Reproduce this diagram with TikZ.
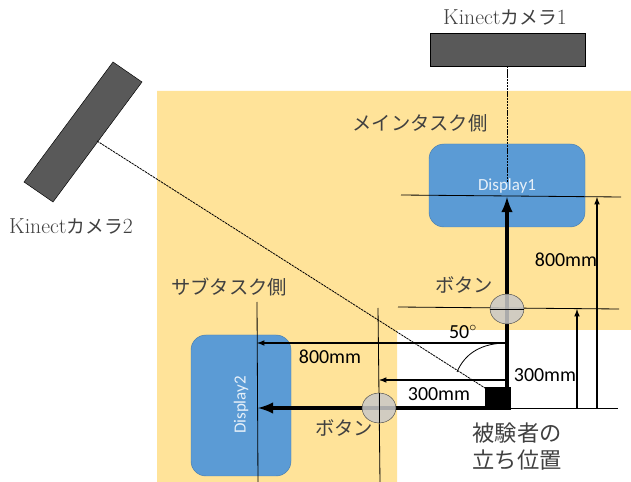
\documentclass[tikz,border=0pt]{standalone}
\usepackage{xcolor}
\usepackage{fontspec}
\usepackage{tikz}
\usetikzlibrary{shapes.geometric}
\setsansfont{Carlito}
\newfontfamily\jpfont{Noto Sans CJK JP}
\definecolor{areayellow}{HTML}{FFE399}
\definecolor{dispblue}{HTML}{5B9BD5}
\definecolor{dispedge}{HTML}{4A7FAF}
\definecolor{camgray}{HTML}{595959}
\definecolor{btngray}{HTML}{C9C9C9}
\definecolor{jptext}{HTML}{404040}
\newcommand{\camtext}[1]{{\fontsize{18.5}{20}\selectfont Kinect}{\jpfont\fontsize{16}{20}\selectfont カメラ}{\fontsize{18.5}{20}\selectfont #1}}
\tikzset{
    display/.style={draw=dispedge, fill=dispblue, rounded corners=15*0.85pt},
    camera/.style={draw=black, fill=camgray},
    button/.style={draw=black!70, fill=btngray, fill opacity=0.85, ellipse, minimum width=34*0.85pt, minimum height=30*0.85pt, inner sep=0pt},
    guide/.style={draw=black, line width=0.7pt},
    dim/.style={-latex, line width=1.2pt},
    walk/.style={-latex, line width=3.4pt},
    sight/.style={dash pattern=on 2pt off 0.7pt, line width=0.7pt},
    jp/.style={text=jptext, font=\jpfont\fontsize{16.5}{20}\selectfont, inner sep=0pt},
    mm/.style={font=\sffamily\fontsize{17}{20}\selectfont, text=black, inner sep=0pt},
    disptext/.style={font=\sffamily\fontsize{14.5}{17}\selectfont, text=white!85!dispblue, inner sep=0pt},
}
\begin{document}
\begin{tikzpicture}[x=0.03cm, y=-0.03cm]
    \useasboundingbox (0, 0) rectangle (631, 482);

    % areas
    \fill[areayellow] (157, 91) -- (631, 91) -- (631, 330) -- (397, 330) -- (397, 482) -- (157, 482) -- cycle;
    \draw[display] (429, 144) rectangle (585, 227);
    \draw[display] (191, 335) rectangle (291, 476);

    % cameras
    \draw[camera] (430, 33) rectangle (585, 66);
    \draw[camera] (113, 62) -- (142, 82) -- (53, 202) -- (24, 182) -- cycle;

    \coordinate (cam1) at (507, 66);
    \coordinate (cam2) at (97, 141);
    \coordinate (front1) at (507, 182);
    \coordinate (L1a) at (401, 195);
    \coordinate (L1b) at (621, 197);
    \coordinate (L2a) at (398, 307);
    \coordinate (L2b) at (619, 309);
    \coordinate (L3a) at (257, 302);
    \coordinate (L3b) at (258, 482);
    \coordinate (L4a) at (378, 308);
    \coordinate (L4b) at (380, 482);
    \coordinate (base) at (618, 408);
    \coordinate (origin) at (507, 408);
    \coordinate (up1) at (507, 197);
    \coordinate (up2) at (597, 197);
    \coordinate (up2s) at (597, 408);
    \coordinate (up3) at (577, 309);
    \coordinate (up3s) at (577, 408);
    \coordinate (left1s) at (507, 343);
    \coordinate (left1) at (257, 343);
    \coordinate (left2s) at (507, 380);
    \coordinate (left2) at (379, 380);
    \coordinate (left3) at (258, 408);
    \coordinate (arcend) at (457, 372);

    % subject
    \node[draw, fill=black, minimum width=25*0.85pt, minimum height=22*0.85pt, inner sep=0pt] at (497.5, 398) (subject) {};
    \coordinate (subjcorner) at (485, 388);

    \draw[sight] (cam1) -- (front1);
    \draw[sight] (cam2) -- (subjcorner);

    \draw[guide] (L1a) -- (L1b);
    \draw[guide] (L2a) -- (L2b);
    \draw[guide] (L3a) -- (L3b);
    \draw[guide] (L4a) -- (L4b);
    \draw[guide] (origin) -- (base);

    \draw[dim] (up2s) -- (up2);
    \draw[dim] (up3s) -- (up3);
    \draw[dim] (left1s) -- (left1);
    \draw[dim] (left2s) -- (left2);
    \draw[walk] (origin) -- (up1);
    \draw[walk] (origin) -- (left3);
    \draw[guide] (left1s) .. controls (482, 343) and (465, 353) .. (arcend);

    \node[button] at (507, 309) (btn1) {};
    \node[button] at (379, 408) (btn2) {};
    \draw[guide] (btn1.west) -- (btn1.east);
    \draw[guide] (btn2.north) -- (btn2.south);

    % labels
    \node[text=jptext, inner sep=0pt] at (505, 17) (cam1label) {\camtext{1}};
    \node[text=jptext, inner sep=0pt] at (71, 226) (cam2label) {\camtext{2}};
    \node[jp] at (420, 123) (mainlabel) {メインタスク側};
    \node[jp] at (229, 287) (sublabel) {サブタスク側};
    \node[jp] at (464, 285) (btn1label) {ボタン};
    \node[jp] at (344, 428) (btn2label) {ボタン};
    \node[jp, font=\jpfont\fontsize{19}{23}\selectfont, align=center] at (517, 447) (subjlabel) {被験者の\\立ち位置};
    \node[disptext] at (507, 186) (disp1label) {Display1};
    \node[disptext, rotate=90] at (241, 405) (disp2label) {Display2};
    \node[mm] at (566, 260) (dist1) {800mm};
    \node[mm] at (330, 357) (dist2) {800mm};
    \node[mm] at (545, 375) (dist3) {300mm};
    \node[mm] at (439, 394) (dist4) {300mm};
    \node[mm] at (463, 332) (angle) {50$^{\circ}$};
\end{tikzpicture}
\end{document}
